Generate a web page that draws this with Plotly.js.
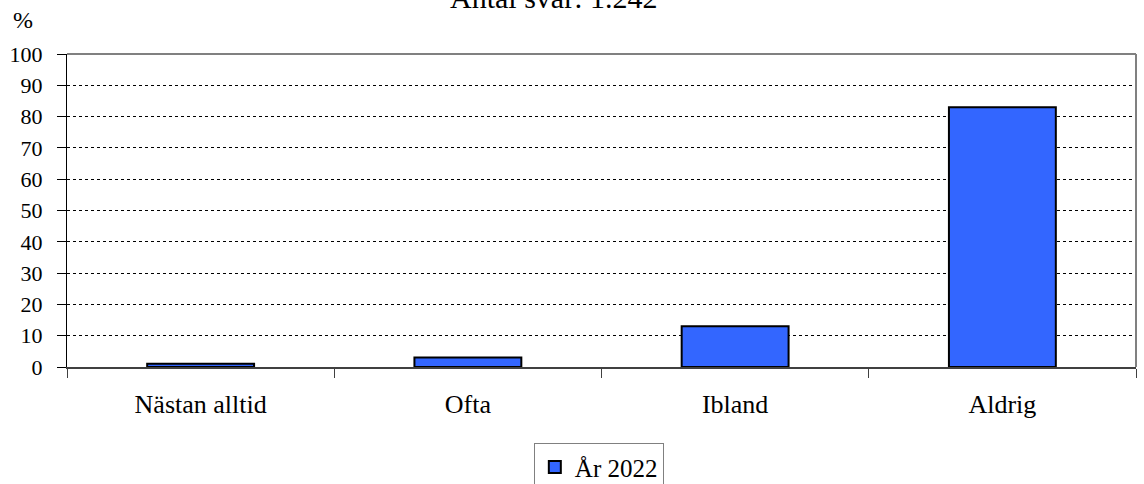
<!DOCTYPE html>
<html>
<head>
<meta charset="utf-8">
<script src="https://cdn.plot.ly/plotly-3.0.1.min.js"></script>
<style>html,body{margin:0;padding:0;background:#fff;}#chart{width:1144px;height:484px;}</style>
</head>
<body>
<div id="chart"></div>
<script>
const categories = ["Nästan alltid", "Ofta", "Ibland", "Aldrig"];
const values2022 = [1, 3, 13, 83];
const seriesName = "År 2022";
const chartTitle = "Antal svar: 1.242";
const yUnit = "%";
const yTicks = [0, 10, 20, 30, 40, 50, 60, 70, 80, 90, 100];

function mkFont(size) { return {family: "Times New Roman", size: size, color: "#000000"}; }

const trace = {
  type: "bar",
  x: categories,
  y: values2022,
  name: seriesName,
  width: 0.4,
  marker: {color: "#3366FF", line: {color: "#000", width: 2}},
  showlegend: true,
  hoverinfo: "x+y"
};

const layout = {
  width: 1144, height: 484,
  margin: {l: 67, r: 8, t: 54, b: 117, autoexpand: false},
  paper_bgcolor: "#fff", plot_bgcolor: "#fff",
  font: mkFont(22),
  showlegend: true,
  legend: {
    x: 0.4975, xanchor: "center", y: -0.244, yanchor: "top",
    orientation: "h",
    bordercolor: "#808080", borderwidth: 1,
    font: mkFont(25), itemwidth: 30, tracegroupgap: 0
  },
  xaxis: {
    type: "category",
    tickson: "boundaries",
    ticks: "outside", ticklen: 9, tickcolor: "#404040", tickwidth: 1,
    showline: true, linecolor: "#404040", linewidth: 2,
    showgrid: false, zeroline: false,
    ticklabelstandoff: 13,
    tickfont: mkFont(26)
  },
  yaxis: {
    range: [0, 100],
    tickvals: yTicks,
    ticks: "outside", ticklen: 9, tickcolor: "#000", tickwidth: 1,
    showline: true, linecolor: "#000", linewidth: 1,
    showgrid: true, gridcolor: "#000", griddash: "dot", gridwidth: 1,
    zeroline: false,
    ticklabelstandoff: 10,
    tickfont: mkFont(22)
  },
  annotations: [
    {text: chartTitle, xref: "paper", yref: "paper", x: 0.4555, xanchor: "center",
     y: 1.122, yanchor: "bottom", showarrow: false, font: mkFont(30)},
    {text: yUnit, xref: "paper", yref: "paper", x: -0.041, xanchor: "center",
     y: 1.11, yanchor: "middle", showarrow: false, font: mkFont(24)}
  ],
  shapes: [
    {type: "line", xref: "paper", yref: "paper", x0: 0, x1: 1, y0: 1, y1: 1, line: {color: "#808080", width: 2}},
    {type: "line", xref: "paper", yref: "paper", x0: 1, x1: 1, y0: 0, y1: 1, line: {color: "#808080", width: 2}}
  ]
};

Plotly.newPlot("chart", [trace], layout, {displayModeBar: false, staticPlot: true});
</script>
</body>
</html>
